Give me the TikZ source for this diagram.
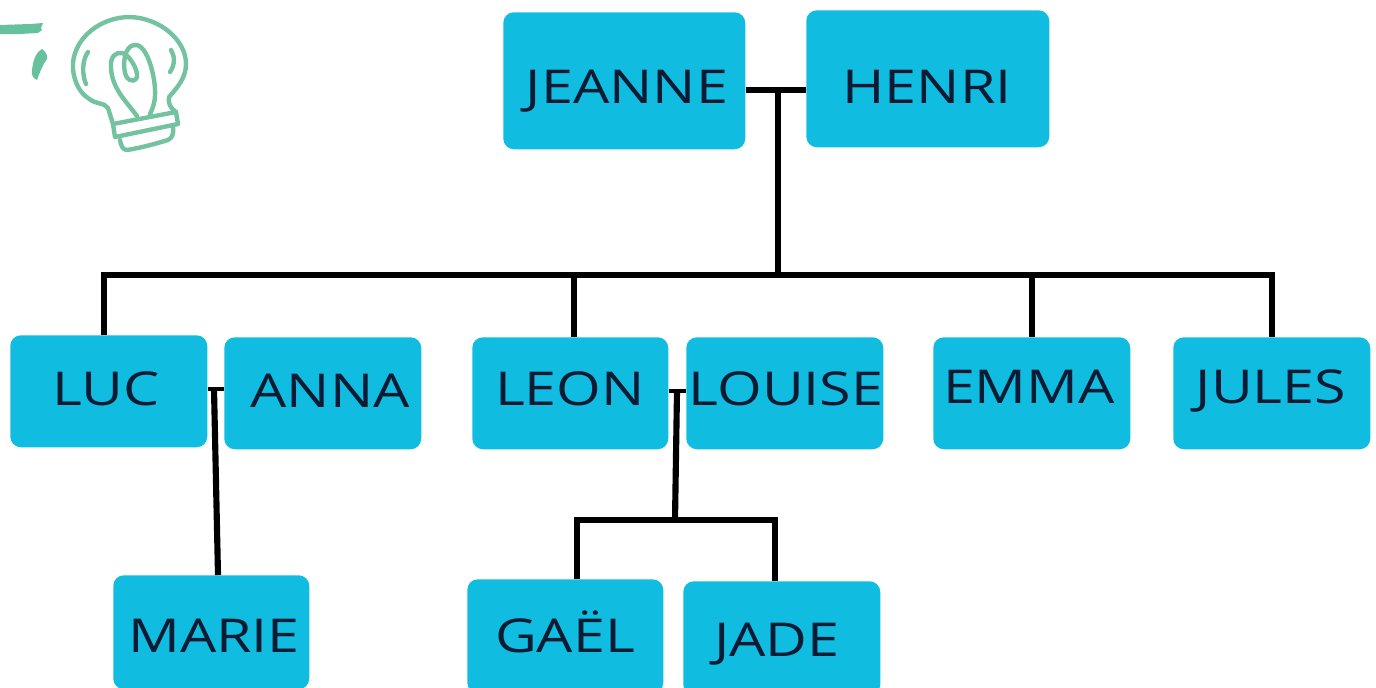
\documentclass[tikz,border=0pt]{standalone}
\usepackage{fontspec}
\setmainfont[FakeStretch=1.23]{Open Sans}
\definecolor{boxblue}{HTML}{10BDE0}
\definecolor{inkdark}{HTML}{0B1B33}
\definecolor{bulbgreen}{HTML}{74C3A0}
\definecolor{markgreen}{HTML}{66C29E}
\tikzset{
  personbox/.style={fill=boxblue,draw=none,rounded corners=8pt,inner sep=0pt,anchor=north west},
  persontext/.style={text=inkdark,font=\fontsize{35}{40}\selectfont,inner sep=0pt,anchor=base},
  link/.style={draw=black,line width=4.1pt,line cap=butt,line join=miter},
  tall/.style={draw=black,line width=4.6pt,line cap=butt},
  thinlink/.style={draw=black,line width=3.4pt,line cap=butt,line join=miter},
  bulbline/.style={draw=bulbgreen,line width=3.3pt,line cap=round,line join=round}
}
\newcommand{\pbox}[6]{\node[personbox,minimum width=#4*0.75pt,minimum height=#5*0.75pt] (#1) at (#2,#3) {};}
\begin{document}
\begin{tikzpicture}[x=0.75pt,y=-0.75pt]
\useasboundingbox (0,0) rectangle (1376,687);
\clip (0,0) rectangle (1376,687);
% boxes
\pbox{jeanne}{503}{12}{242}{137}{}
\pbox{henri}{806}{10}{243}{137}{}
\pbox{luc}{10}{335}{197}{112}{}
\pbox{anna}{224}{337}{197}{112}{}
\pbox{leon}{472}{337}{196}{112}{}
\pbox{louise}{686}{337}{197}{112}{}
\pbox{emma}{933}{337}{197}{112}{}
\pbox{jules}{1173}{337}{197}{112}{}
\pbox{marie}{113}{575}{196}{114}{}
\pbox{gael}{467}{579}{196}{114}{}
\pbox{jade}{683}{581}{197}{114}{}
% labels
\node[persontext] (tjeanne) at (627,103) {JEANNE};
\node[persontext] (thenri) at (927,103) {HENRI};
\node[persontext] (tluc) at (106,405) {LUC};
\node[persontext] (tanna) at (330,407) {ANNA};
\node[persontext] (tleon) at (570,405) {LEON};
\node[persontext] (tlouise) at (786,405) {LOUISE};
\node[persontext] (temma) at (1029,403) {EMMA};
\node[persontext] (tjules) at (1271,403) {JULES};
\node[persontext] (tmarie) at (214,652) {MARIE};
\node[persontext] (tgael) at (565,652) {GAËL};
\node[persontext] (tjade) at (777,656) {JADE};
% junctions
\coordinate (topjoin) at (778,90);
\coordinate (rail) at (778,275);
\coordinate (lucjoin) at (214,389);
\coordinate (leonjoin) at (677,391);
\coordinate (kidsjoin) at (675,520);
\coordinate (lucdrop) at (104,275);
\coordinate (julesdrop) at (1272,275);
\coordinate (leondrop) at (574,275);
\coordinate (emmadrop) at (1032,275);
\coordinate (gaeldrop) at (577,520);
\coordinate (jadedrop) at (775,520);
\coordinate (mariedrop) at (218,575);
% connectors
\draw[link] (jeanne.east |- topjoin) -- (henri.west |- topjoin);
\draw[tall] (topjoin) -- (rail);
\draw[link] (luc.north -| lucdrop) -- (lucdrop) -- (julesdrop) -- (jules.north -| julesdrop);
\draw[link] (leondrop) -- (leon.north -| leondrop);
\draw[link] (emmadrop) -- (emma.north -| emmadrop);
\draw[thinlink] (luc.east |- lucjoin) -- (anna.west |- lucjoin);
\draw[tall] (lucjoin) -- (mariedrop);
\draw[thinlink] (leon.east |- leonjoin) -- (louise.west |- leonjoin);
\draw[tall] (leonjoin) -- (kidsjoin);
\draw[link] (gael.north -| gaeldrop) -- (gaeldrop) -- (jadedrop) -- (jade.north -| jadedrop);
% light bulb
\fill[markgreen] (0,25) -- (30,24) -- (43,23) -- (41,28) -- (42,30) -- (38,33) -- (20,34) -- (0,34) -- cycle;
\fill[markgreen] (42,49) .. controls (46,52) and (48,56) .. (47,59) .. controls (43,64) and (40,72) .. (37,80) .. controls (33,78) and (31,75) .. (32,70) .. controls (33,62) and (35,53) .. (42,49) -- cycle;
\draw[bulbline] (113,124) -- (108,108) .. controls (104,102) and (96,105) .. (88,98)
  .. controls (78,92) and (72,76) .. (73,63) .. controls (75,38) and (100,17) .. (130,17)
  .. controls (160,18) and (186,40) .. (186,64) .. controls (186,78) and (177,88) .. (169,97)
  .. controls (168,103) and (170,108) .. (176,112);
\draw[bulbline] (113,124) -- (176,112) -- (178,124) -- (115,137) -- cycle;
\draw[bulbline] (173,127) .. controls (174,134) and (172,138) .. (168,140) .. controls (155,144) and (140,148) .. (127,150) .. controls (123,150) and (121,146) .. (120,140);
\draw[bulbline] (88,52) .. controls (82,60) and (82,75) .. (86,84);
\draw[bulbline] (171,50) .. controls (175,56) and (175,65) .. (170,72);
\draw[bulbline] (137,116) .. controls (125,100) and (112,88) .. (111,68) .. controls (110,56) and (116,52) .. (122,53)
  .. controls (128,54) and (136,66) .. (137,74) .. controls (138,82) and (130,83) .. (126,76)
  .. controls (122,66) and (124,45) .. (135,45) .. controls (148,44) and (156,80) .. (155,95) .. controls (155,103) and (152,110) .. (150,114);
\end{tikzpicture}
\end{document}
